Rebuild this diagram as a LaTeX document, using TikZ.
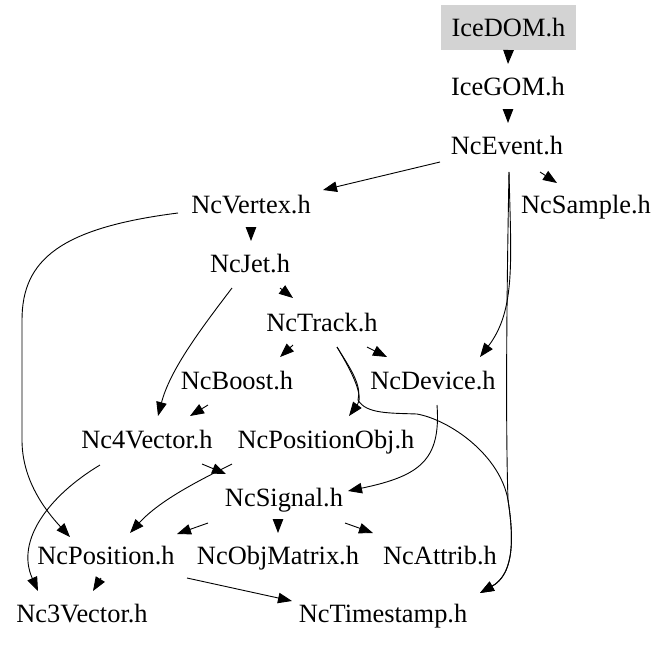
\documentclass[tikz,border=0pt]{standalone}
\usepackage{fontspec}
\setmainfont{Liberation Serif}
\usetikzlibrary{arrows.meta,calc}
\definecolor{boxgray}{HTML}{D3D3D3}
\tikzset{
  file/.style={inner sep=0pt, font=\fontsize{26.4pt}{30pt}\selectfont, text height=17.4pt, text depth=0pt, minimum height=47pt},
  rootfile/.style={file, fill=boxgray, minimum width=135pt, minimum height=45pt},
  edge/.style={line width=0.9pt, -{Triangle[length=14pt,width=10.5pt]}}
}
\begin{document}
\begin{tikzpicture}[x=1pt,y=-1pt]
\useasboundingbox (0,0) rectangle (668,645);
\node[rootfile] (IceDOM) at (508.5,27.5) {IceDOM.h};
\node[file] (IceGOM) at (508,87) {IceGOM.h};
\node[file] (NcEvent) at (507,146) {NcEvent.h};
\node[file] (NcVertex) at (251,205) {NcVertex.h};
\node[file] (NcSample) at (586,205) {NcSample.h};
\node[file] (NcJet) at (250,264) {NcJet.h};
\node[file] (NcTrack) at (322,323) {NcTrack.h};
\node[file] (NcBoost) at (237,381) {NcBoost.h};
\node[file] (NcDevice) at (433,381) {NcDevice.h};
\node[file] (Nc4Vector) at (147,440) {Nc4Vector.h};
\node[file] (NcPositionObj) at (326,440) {NcPositionObj.h};
\node[file] (NcSignal) at (284,498) {NcSignal.h};
\node[file] (NcPosition) at (106,556) {NcPosition.h};
\node[file] (NcObjMatrix) at (278,556) {NcObjMatrix.h};
\node[file] (NcAttrib) at (440,556) {NcAttrib.h};
\node[file] (Nc3Vector) at (82,614) {Nc3Vector.h};
\node[file] (NcTimestamp) at (383,614) {NcTimestamp.h};

% edges
\draw[edge] (IceDOM.south) -- ($(IceGOM)+(0,-23)$);
\draw[edge] ($(IceGOM)+(0,23)$) -- ($(NcEvent)+(1,-23)$);
\draw[edge] ($(NcEvent)+(-67,16)$) -- ($(NcVertex)+(72,-15)$);
\draw[edge] ($(NcEvent)+(33,26)$) -- ($(NcSample)+(-29,-22)$);
\draw[edge] ($(NcEvent)+(2,26)$) .. controls (511,260) and (516,310) .. ($(NcDevice)+(47,-24)$);
\draw[edge] ($(NcEvent)+(2,26)$) .. controls (506,330) and (506,440) .. (508,500)
   .. controls (515,545) and (512,575) .. ($(NcTimestamp)+(97,-21)$);
\draw[edge] ($(NcVertex)+(0,23)$) -- ($(NcJet)+(1,-23)$);
\draw[edge] ($(NcVertex)+(-73,8)$) .. controls (60,228) and (22,260) .. (22,320)
   -- (22,440) .. controls (22,480) and (45,510) .. ($(NcPosition)+(-36,-19)$);
\draw[edge] ($(NcJet)+(30,24)$) -- ($(NcTrack)+(-29,-25)$);
\draw[edge] ($(NcJet)+(-18,24)$) .. controls (200,330) and (170,370) .. ($(Nc4Vector)+(11,-24)$);
\draw[edge] ($(NcTrack)+(-29,22)$) -- ($(NcBoost)+(43,-24)$);
\draw[edge] ($(NcTrack)+(45,24)$) -- ($(NcDevice)+(-46,-24)$);
\draw[edge] ($(NcTrack)+(15,24)$) .. controls (352,372) and (364,396) .. ($(NcPositionObj)+(23,-24)$);
\draw[edge] ($(NcTrack)+(15,24)$) .. controls (350,368) and (362,385) .. (358,400)
   .. controls (366,414) and (390,413) .. (417,414)
   .. controls (450,420) and (500,455) .. (508,500)
   .. controls (515,545) and (512,575) .. ($(NcTimestamp)+(97,-21)$);
\draw[edge] ($(NcBoost)+(-29,24)$) -- ($(Nc4Vector)+(43,-24)$);
\draw[edge] ($(NcDevice)+(4,24)$) .. controls (441,460) and (420,476) .. ($(NcSignal)+(64,-7)$);
\draw[edge] ($(Nc4Vector)+(55,24)$) -- ($(NcSignal)+(-58,-24)$);
\draw[edge] ($(NcPositionObj)+(-94,24)$) .. controls (200,480) and (160,500) .. ($(NcPosition)+(24,-23)$);
\draw[edge] ($(NcSignal)+(-76,25)$) -- ($(NcPosition)+(71,-22)$);
\draw[edge] ($(NcSignal)+(-6,24)$) -- ($(NcObjMatrix)+(0,-23)$);
\draw[edge] ($(NcSignal)+(61,25)$) -- ($(NcAttrib)+(-67,-23)$);
\draw[edge] ($(NcPosition)+(-5,22)$) -- ($(Nc3Vector)+(11,-23)$);
\draw[edge] ($(Nc4Vector)+(-47,25)$) .. controls (50,495) and (15,540) .. ($(Nc3Vector)+(-44,-23)$);
\draw[edge] ($(NcPosition)+(81,22)$) -- ($(NcTimestamp)+(-91,-13)$);
\end{tikzpicture}
\end{document}
